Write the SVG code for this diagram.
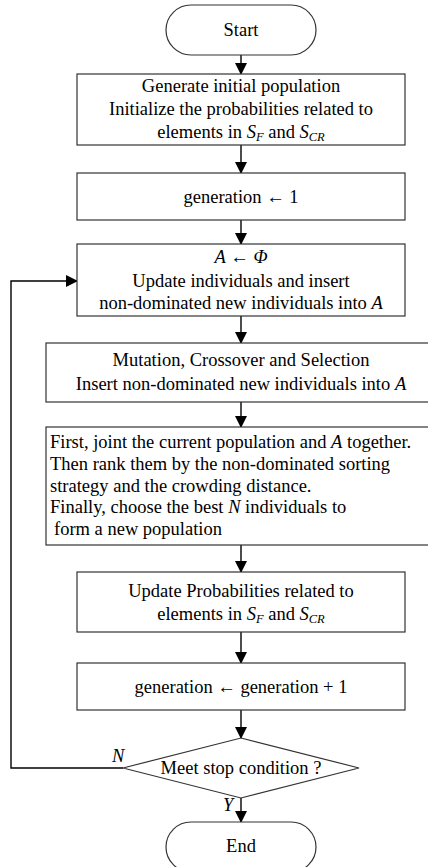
<svg xmlns="http://www.w3.org/2000/svg" width="428" height="867" viewBox="0 0 428 867">
<style>
.box{fill:#fff;stroke:#333;stroke-width:1.2}
.t{font-family:"Liberation Serif","Times New Roman",serif;font-size:18.5px;fill:#000}
.c{text-anchor:middle}
.i{font-style:italic}
.s{font-size:12.5px;font-style:italic}
.ln{fill:none;stroke:#000;stroke-width:1.4}
</style>
<defs>
<marker id="ah" markerWidth="12" markerHeight="12" refX="11" refY="6" orient="auto" markerUnits="userSpaceOnUse">
<path d="M0,0 L12,6 L0,12 Z" fill="#000"/>
</marker>
</defs>
<rect width="428" height="867" fill="#fff"/>
<g id="connectors">
<line class="ln" x1="241" y1="55" x2="241" y2="74" marker-end="url(#ah)"/>
<line class="ln" x1="241" y1="145" x2="241" y2="173" marker-end="url(#ah)"/>
<line class="ln" x1="241" y1="220" x2="241" y2="244" marker-end="url(#ah)"/>
<line class="ln" x1="241" y1="316" x2="241" y2="343" marker-end="url(#ah)"/>
<line class="ln" x1="241" y1="402" x2="241" y2="427" marker-end="url(#ah)"/>
<line class="ln" x1="241" y1="545" x2="241" y2="572" marker-end="url(#ah)"/>
<line class="ln" x1="241" y1="632" x2="241" y2="663" marker-end="url(#ah)"/>
<line class="ln" x1="241" y1="710" x2="241" y2="738" marker-end="url(#ah)"/>
<line class="ln" x1="241" y1="798" x2="241" y2="822" marker-end="url(#ah)"/>
<polyline class="ln" points="123,768 11,768 11,281 77,281" marker-end="url(#ah)"/>
<text class="t i" x="112" y="762">N</text>
<text class="t i" x="223" y="811">Y</text>
</g>
<g id="start">
<rect class="box" x="166" y="5" width="150" height="50" rx="25" ry="25"/>
<text class="t c" x="241" y="36">Start</text>
</g>
<g id="init">
<rect class="box" x="77" y="74" width="328" height="71"/>
<text class="t c" x="241" y="92">Generate initial population</text>
<text class="t c" x="241" y="115">Initialize the probabilities related to</text>
<text class="t c" x="241" y="138">elements in <tspan class="i">S</tspan><tspan class="s" dy="3">F</tspan><tspan dy="-3"> and </tspan><tspan class="i">S</tspan><tspan class="s" dy="3">CR</tspan></text>
</g>
<g id="gen1">
<rect class="box" x="77" y="173" width="328" height="47"/>
<text class="t c" x="241" y="203">generation ← 1</text>
</g>
<g id="update">
<rect class="box" x="77" y="244" width="328" height="72"/>
<text class="t c" x="241" y="263"><tspan class="i">A</tspan> ← <tspan class="i">Φ</tspan></text>
<text class="t c" x="241" y="287">Update individuals and insert</text>
<text class="t c" x="241" y="309">non-dominated new individuals into <tspan class="i">A</tspan></text>
</g>
<g id="mutation">
<rect class="box" x="46" y="343" width="386" height="59"/>
<text class="t c" x="241" y="366">Mutation, Crossover and Selection</text>
<text class="t c" x="241" y="390">Insert non-dominated new individuals into <tspan class="i">A</tspan></text>
</g>
<g id="rank">
<rect class="box" x="46" y="427" width="386" height="118"/>
<text class="t" x="50" y="448">First, joint the current population and <tspan class="i">A</tspan> together.</text>
<text class="t" x="50" y="470">Then rank them by the non-dominated sorting</text>
<text class="t" x="50" y="492">strategy and the crowding distance.</text>
<text class="t" x="50" y="513">Finally, choose the best <tspan class="i">N</tspan> individuals to</text>
<text class="t" x="54" y="535">form a new population</text>
</g>
<g id="updprob">
<rect class="box" x="77" y="572" width="328" height="60"/>
<text class="t c" x="241" y="597">Update Probabilities related to</text>
<text class="t c" x="241" y="620">elements in <tspan class="i">S</tspan><tspan class="s" dy="3">F</tspan><tspan dy="-3"> and </tspan><tspan class="i">S</tspan><tspan class="s" dy="3">CR</tspan></text>
</g>
<g id="geninc">
<rect class="box" x="77" y="663" width="328" height="47"/>
<text class="t c" x="241" y="693">generation ← generation + 1</text>
</g>
<g id="decision">
<polygon class="box" points="241,738 359,768 241,798 123,768"/>
<text class="t c" x="241" y="774">Meet stop condition ?</text>
</g>
<g id="end">
<rect class="box" x="166" y="822" width="150" height="50" rx="25" ry="25"/>
<text class="t c" x="241" y="852">End</text>
</g>
</svg>
